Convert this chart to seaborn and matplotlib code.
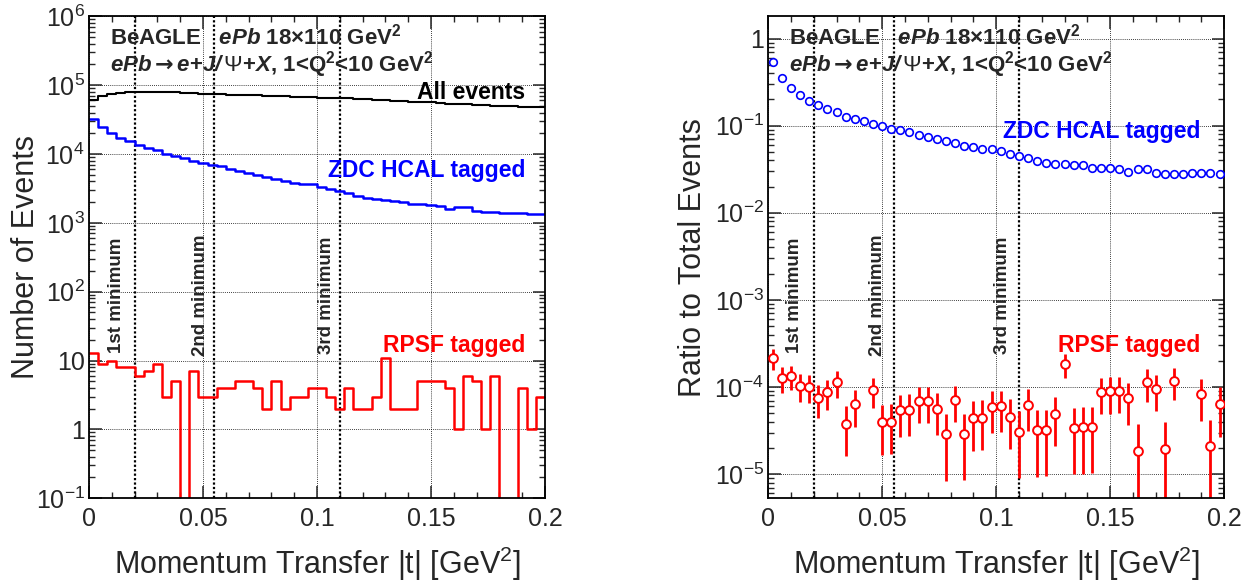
import numpy as np
import pandas as pd
import matplotlib
matplotlib.use("Agg")
import matplotlib.pyplot as plt
from matplotlib.ticker import LogLocator, MultipleLocator, FuncFormatter, NullFormatter
import seaborn as sns

# 50 bins of |t| between 0 and 0.2 GeV^2
t_lo, t_hi, n_bins = 0.0, 0.2, 50

# counts per bin
all_events = [60000, 70500, 74500, 77000, 79000, 80000, 80000, 79500, 79000, 78500,
              78000, 76500, 75500, 75000, 74000, 73000, 72000, 71500, 71000, 70000,
              69500, 69000, 68000, 67500, 67000, 66000, 65500, 65000, 64000, 63000,
              62000, 61000, 60000, 59000, 58000, 57500, 57000, 56000, 55000, 54000,
              53500, 53000, 52000, 51000, 50500, 50000, 49000, 48500, 48000, 47500]
zdc_tagged = [32400, 24600, 20000, 17300, 15300, 13700, 12400, 11300, 10000, 9470,
              8770, 7940, 7520, 6890, 6600, 6110, 5600, 5350, 5010, 4640,
              4350, 4070, 3850, 3650, 3650, 3340, 3130, 2930, 2740, 2480,
              2330, 2220, 2150, 2100, 2030, 1900, 1870, 1810, 1770, 1570,
              1690, 1670, 1490, 1440, 1420, 1400, 1390, 1380, 1360, 1330]
rpsf_tagged = [13, 9, 10, 8, 8, 6, 7, 9, 3, 5,
               0, 7, 3, 3, 4, 4, 5, 5, 4, 2,
               5, 2, 3, 3, 4, 4, 3, 2, 4, 2,
               2, 3, 11, 2, 2, 2, 5, 5, 5, 4,
               1, 6, 5, 1, 6, 0, 0, 4, 1, 3]

# diffractive minima positions and their labels
minima_t = [0.020, 0.055, 0.110]
minima_labels = ["1st minimum", "2nd minimum", "3rd minimum"]

edges = np.linspace(t_lo, t_hi, n_bins + 1)
centers = 0.5 * (edges[:-1] + edges[1:])
df = pd.DataFrame({"t": centers, "all": all_events, "zdc": zdc_tagged, "rpsf": rpsf_tagged})
df["zdc_ratio"] = df["zdc"] / df["all"]
df["rpsf_ratio"] = df["rpsf"] / df["all"]
df["rpsf_err"] = np.sqrt(df["rpsf"]) / df["all"]

sns.set_theme(style="ticks")
plt.rcParams["font.family"] = ["Liberation Sans", "DejaVu Sans"]
plt.rcParams["mathtext.fontset"] = "custom"
plt.rcParams["mathtext.rm"] = "Liberation Sans"
plt.rcParams["mathtext.sf"] = "DejaVu Sans:bold"
plt.rcParams["mathtext.it"] = "Liberation Sans:italic"
plt.rcParams["mathtext.bf"] = "Liberation Sans:bold"
plt.rcParams["mathtext.bfit"] = "Liberation Sans:bold:italic"

fig = plt.figure(figsize=(12.53, 5.82), dpi=100)
ax1 = fig.add_axes([0.071, 0.144, 0.364, 0.828])
ax2 = fig.add_axes([0.613, 0.144, 0.364, 0.828])


def log_label(v, pos):
    e = int(round(np.log10(v)))
    if e == 0:
        return "1"
    if e == 1:
        return "10"
    return r"$\mathregular{10^{%d}}$" % e


def style_axis(ax):
    ax.set_xlim(t_lo, t_hi)
    ax.set_yscale("log")
    ax.xaxis.set_major_locator(MultipleLocator(0.05))
    ax.xaxis.set_minor_locator(MultipleLocator(0.01))
    ax.xaxis.set_major_formatter(FuncFormatter(lambda v, p: "%g" % round(v, 3)))
    ax.yaxis.set_major_locator(LogLocator(base=10, numticks=20))
    ax.yaxis.set_minor_locator(LogLocator(base=10, subs=np.arange(2, 10), numticks=20))
    ax.yaxis.set_major_formatter(FuncFormatter(log_label))
    ax.yaxis.set_minor_formatter(NullFormatter())
    ax.tick_params(which="both", direction="in", top=True, right=True, labelsize=18)
    ax.tick_params(axis="x", pad=6)
    ax.tick_params(axis="y", pad=3)
    ax.tick_params(which="major", length=9, width=1.1)
    ax.tick_params(which="minor", length=4.5, width=1.0)
    for s in ax.spines.values():
        s.set_linewidth(1.3)
        s.set_color("black")
    ax.grid(True, which="major", color="black", linestyle=(0, (1, 1.5)), linewidth=0.6)
    ax.set_xlabel(r"Momentum Transfer |t| [GeV$\mathregular{^{2}}$]", fontsize=22, labelpad=10)
    for tm in minima_t:
        ax.axvline(tm, color="black", linestyle=(0, (1, 1)), linewidth=1.6, zorder=1)


def header(ax):
    ax.text(0.046, 0.958, r"BeAGLE   $\mathbfit{ePb}$ 18×110 GeV$^{\mathbf{2}}$",
            transform=ax.transAxes, fontsize=16, fontweight="bold", va="center")
    ax.text(0.046, 0.9,
            r"$\mathbfit{ePb}\mathsf{\rightarrow}\mathbfit{e}$+$\mathbfit{J/}\,\mathit{\Psi}$+$\mathbfit{X}$, 1<Q$^{\mathbf{2}}$<10 GeV$^{\mathbf{2}}$",
            transform=ax.transAxes, fontsize=16, fontweight="bold", va="center")


def minima_text(ax, xs):
    for x, lab in zip(xs, minima_labels):
        ax.text(x, 0.421, lab, transform=ax.get_xaxis_transform(), rotation=90,
                fontsize=13.5, fontweight="bold", ha="center", va="center")


# left panel: event counts
for col, colour, lw in [("all", "black", 1.5), ("zdc", "#0000ff", 1.8), ("rpsf", "#ff0000", 1.8)]:
    sns.histplot(data=df, x="t", weights=col, bins=n_bins, binrange=(t_lo, t_hi),
                 element="step", fill=False, color=colour, linewidth=lw, ax=ax1)
style_axis(ax1)
ax1.set_ylim(0.1, 1e6)
ax1.set_ylabel("Number of Events", fontsize=22)
ax1.yaxis.set_label_coords(-0.105, 0.5)
header(ax1)
ax1.text(0.956, 0.842, "All events", transform=ax1.transAxes, fontsize=16.5,
         fontweight="bold", color="black", ha="right", va="center")
ax1.text(0.956, 0.68, "ZDC HCAL tagged", transform=ax1.transAxes, fontsize=16.5,
         fontweight="bold", color="#0000ff", ha="right", va="center")
ax1.text(0.956, 0.317, "RPSF tagged", transform=ax1.transAxes, fontsize=16.5,
         fontweight="bold", color="#ff0000", ha="right", va="center")
minima_text(ax1, [0.0122, 0.049, 0.104])

# right panel: ratio to all events
sns.scatterplot(data=df, x="t", y="zdc_ratio", marker="o", s=30, color="white",
                edgecolor="#0000ff", linewidth=1.2, zorder=3, ax=ax2)
rp = df[df["rpsf"] > 0]
ax2.errorbar(rp["t"], rp["rpsf_ratio"], yerr=rp["rpsf_err"], fmt="none",
             ecolor="#ff0000", elinewidth=2, capsize=0, zorder=2)
sns.scatterplot(data=rp, x="t", y="rpsf_ratio", marker="o", s=40, color="white",
                edgecolor="#ff0000", linewidth=1.4, zorder=4, ax=ax2)
style_axis(ax2)
ax2.set_ylim(5.3e-6, 1.8)
ax2.set_ylabel("Ratio to Total Events", fontsize=22)
ax2.yaxis.set_label_coords(-0.131, 0.5)
header(ax2)
ax2.text(0.947, 0.761, "ZDC HCAL tagged", transform=ax2.transAxes, fontsize=16.5,
         fontweight="bold", color="#0000ff", ha="right", va="center")
ax2.text(0.947, 0.317, "RPSF tagged", transform=ax2.transAxes, fontsize=16.5,
         fontweight="bold", color="#ff0000", ha="right", va="center")
minima_text(ax2, [0.0118, 0.048, 0.103])

fig.savefig("out.png", dpi=100, facecolor="white")
